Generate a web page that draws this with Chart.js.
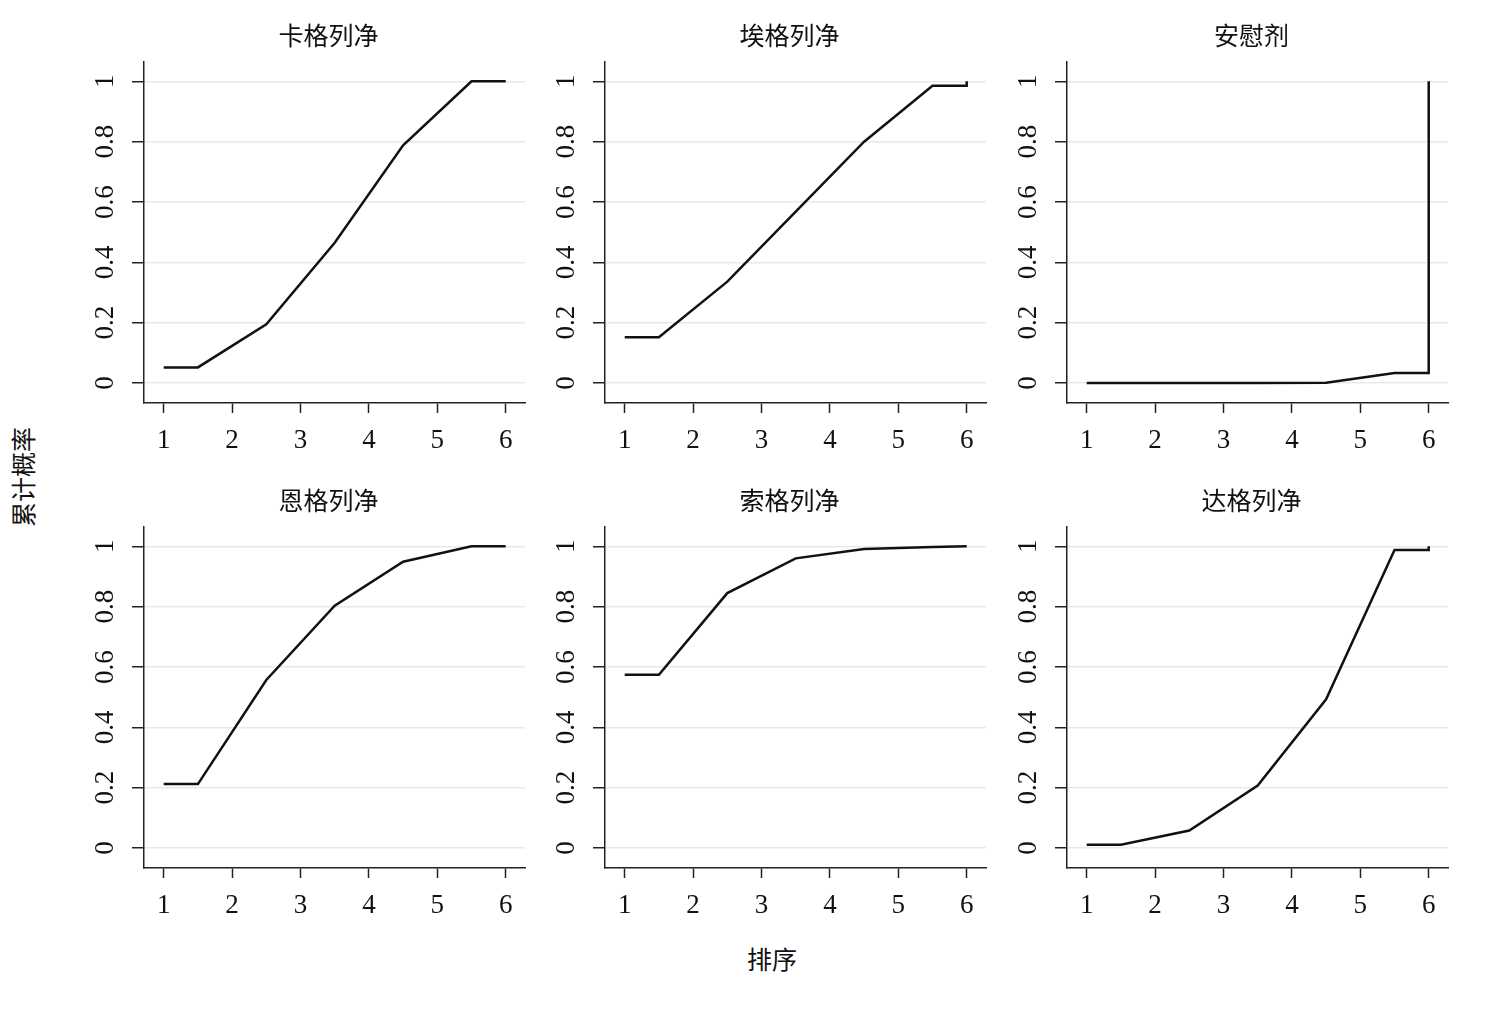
<!DOCTYPE html>
<html>
<head>
<meta charset="utf-8">
<script src="https://cdn.jsdelivr.net/npm/chart.js@4/dist/chart.umd.min.js"></script>
<style>
  body { margin: 0; background: #fff; }
  #wrap { position: relative; width: 1500px; height: 1029px; overflow: hidden; }
  .panel { position: absolute; width: 459px; height: 443px; }
  .lbl { position: absolute; font: 25px "Noto Sans CJK SC", sans-serif; color: #111; white-space: nowrap; }
  #ylab { left: 22px; top: 477px; transform: translate(-50%, -50%) rotate(-90deg); }
  #xlab { left: 772px; top: 958px; transform: translate(-50%, -50%); }
</style>
</head>
<body>
<div id="wrap">
  <div class="lbl" id="ylab">累计概率</div>
  <div class="lbl" id="xlab">排序</div>
</div>
<script>
// treatment names, one small panel each
const drugs = ['卡格列净', '埃格列净', '安慰剂', '恩格列净', '索格列净', '达格列净'];

// rank positions where the cumulative curve bends; the last point repeats 6
// so the final jump up to 1 is drawn as a vertical step
const rankPos = [1, 1.5, 2.5, 3.5, 4.5, 5.5, 6, 6];

// cumulative probability per drug
const cana  = [0.052, 0.052, 0.195, 0.465, 0.788, 1.0, 1.0, 1.0];
const ertu  = [0.152, 0.152, 0.336, 0.568, 0.800, 0.985, 0.985, 1.0];
const plac  = [0.0, 0.0, 0.0, 0.0, 0.001, 0.033, 0.033, 1.0];
const empa  = [0.212, 0.212, 0.557, 0.803, 0.949, 1.0, 1.0, 1.0];
const sota  = [0.574, 0.574, 0.845, 0.960, 0.991, 0.998, 1.0, 1.0];
const dapa  = [0.011, 0.011, 0.058, 0.207, 0.493, 0.988, 0.988, 1.0];
const series = [cana, ertu, plac, empa, sota, dapa];

const xTicks = [1, 2, 3, 4, 5, 6];
const yTicks = [0, 0.2, 0.4, 0.6, 0.8, 1];

const axisLeft = [144, 605, 1067];
const axisTop = [62, 527];
const serif = '"Liberation Serif", "Times New Roman", serif';
const ink = '#222';

// panel title centred over the plot area rather than the whole canvas
const panelTitle = {
  id: 'panelTitle',
  afterDraw(chart, args, opts) {
    const { ctx, chartArea } = chart;
    ctx.save();
    ctx.font = '25px ' + serif + ', "Noto Sans CJK SC"';
    ctx.fillStyle = '#111';
    ctx.textAlign = 'center';
    ctx.textBaseline = 'middle';
    ctx.fillText(opts.text, (chartArea.left + chartArea.right) / 2 - 6, 18);
    ctx.restore();
  }
};

const wrap = document.getElementById('wrap');

drugs.forEach((name, i) => {
  const col = i % 3, row = Math.floor(i / 3);
  const div = document.createElement('div');
  div.className = 'panel';
  div.style.left = (axisLeft[col] - 64) + 'px';
  div.style.top = (axisTop[row] - 42) + 'px';
  const cv = document.createElement('canvas');
  div.appendChild(cv);
  wrap.appendChild(div);

  new Chart(cv.getContext('2d'), {
    type: 'line',
    data: {
      datasets: [{
        data: rankPos.map((x, k) => ({ x: x, y: series[i][k] })),
        borderColor: '#111',
        borderWidth: 2.5,
        pointRadius: 0,
        tension: 0,
        fill: false
      }]
    },
    plugins: [panelTitle],
    options: {
      responsive: true,
      maintainAspectRatio: false,
      animation: false,
      events: [],
      layout: { padding: { left: 0, right: 14, top: 42, bottom: 0 }, autoPadding: false },
      plugins: {
        legend: { display: false },
        tooltip: { enabled: false },
        title: { display: false },
        panelTitle: { text: name }
      },
      scales: {
        x: {
          type: 'linear',
          min: 0.712,
          max: 6.282,
          afterBuildTicks: s => { s.ticks = xTicks.map(v => ({ value: v })); },
          afterFit: s => { s.height = 60; },
          ticks: {
            color: '#111',
            font: { family: serif, size: 27 },
            padding: 12,
            maxRotation: 0,
            minRotation: 0,
            callback: v => String(v)
          },
          grid: { drawOnChartArea: false, tickLength: 10, tickColor: ink, tickWidth: 1.5 },
          border: { display: true, color: ink, width: 1.5 }
        },
        y: {
          min: -0.066,
          max: 1.064,
          afterBuildTicks: s => { s.ticks = yTicks.map(v => ({ value: v })); },
          afterFit: s => { s.width = 64; },
          ticks: {
            color: '#111',
            font: { family: serif, size: 27 },
            padding: 9,
            minRotation: 90,
            maxRotation: 90,
            crossAlign: 'center',
            callback: v => String(v)
          },
          grid: { color: '#e2eceb', lineWidth: 1.5, tickLength: 12, tickColor: ink, tickWidth: 1.5 },
          border: { display: true, color: ink, width: 1.5 }
        }
      }
    }
  });
});
</script>
</body>
</html>
